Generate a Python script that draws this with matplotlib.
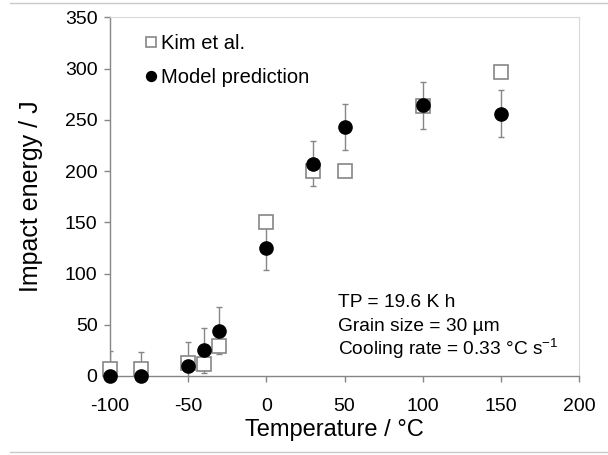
import matplotlib
matplotlib.use("Agg")
import matplotlib.pyplot as plt
from matplotlib.lines import Line2D

# data
temperature = [-100, -80, -50, -40, -30, 0, 30, 50, 100, 150]
kim_energy = [7, 7, 13, 12, 29, 150, 200, 200, 263, 297]
model_energy = [0, 0, 10, 25, 44, 125, 207, 243, 264, 256]
model_err = [24, 23, 23, 22, 23, 22, 22, 22, 23, 23]

xticks = [-100, -50, 0, 50, 100, 150, 200]
yticks = [0, 50, 100, 150, 200, 250, 300, 350]

notes = ['TP = 19.6 K h',
         'Grain size = 30 µm',
         'Cooling rate = 0.33 °C s$^{-1}$']

plt.rcParams.update({
    'font.family': ['Liberation Sans', 'DejaVu Sans'],
    'mathtext.fontset': 'custom',
    'mathtext.rm': 'Liberation Sans',
    'mathtext.it': 'Liberation Sans:italic',
    'axes.unicode_minus': False,
})

grey = '#868686'

fig = plt.figure(figsize=(6.08, 4.55), dpi=100)
ax = fig.add_axes([110/608, 1 - 376/455, (579 - 110)/608, (376 - 17.3)/455])

ax.errorbar(temperature, model_energy, yerr=model_err, fmt='none',
            ecolor=grey, elinewidth=1.0, capsize=2.5, capthick=1.0, zorder=2)
ax.plot(temperature, kim_energy, ls='none', marker='s', ms=10,
        mfc='white', mec=grey, mew=1.2, label='Kim et al.', zorder=3, clip_on=False)
ax.plot(temperature, model_energy, ls='none', marker='o', ms=9.5,
        mfc='black', mec='black', label='Model prediction', zorder=4, clip_on=False)

ax.set_xlim(-100, 200)
ax.set_ylim(0, 350)
ax.set_xticks(xticks)
ax.set_yticks(yticks)
ax.tick_params(direction='out', length=4, width=1, color=grey, labelsize=14)
ax.tick_params(axis='x', pad=12)
ax.tick_params(axis='y', pad=5)

for s in ['left', 'bottom']:
    ax.spines[s].set_color(grey)
    ax.spines[s].set_linewidth(1)
for s in ['top', 'right']:
    ax.spines[s].set_color('#d9d9d9')
    ax.spines[s].set_linewidth(0.8)

ax.set_xlabel('Temperature / °C', fontsize=17)
ax.set_ylabel('Impact energy / J', fontsize=18)
ax.xaxis.set_label_coords(0.4776, -0.12)
ax.yaxis.set_label_coords(-0.143, 0.5)

ax.legend(loc='upper left', bbox_to_anchor=(0.044, 0.993), frameon=False,
          fontsize=14.5, markerscale=0.75, handlelength=0.6,
          handletextpad=0.2, labelspacing=0.75, borderaxespad=0.3)

# annotation, one line at a time so the spacing stays even
for i, line in enumerate(notes):
    ax.text(0.4868, (376 - 307 - 24 * i) / 358.7, line,
            transform=ax.transAxes, fontsize=13.8, va='baseline', ha='left')

# thin frame lines at top and bottom of the image
fig.add_artist(Line2D([10/608, 1], [1 - 3.3/455] * 2, color='#c8c8c8', lw=1))
fig.add_artist(Line2D([10/608, 1], [1 - 451.7/455] * 2, color='#c8c8c8', lw=1))

fig.savefig('out.png', dpi=100)
